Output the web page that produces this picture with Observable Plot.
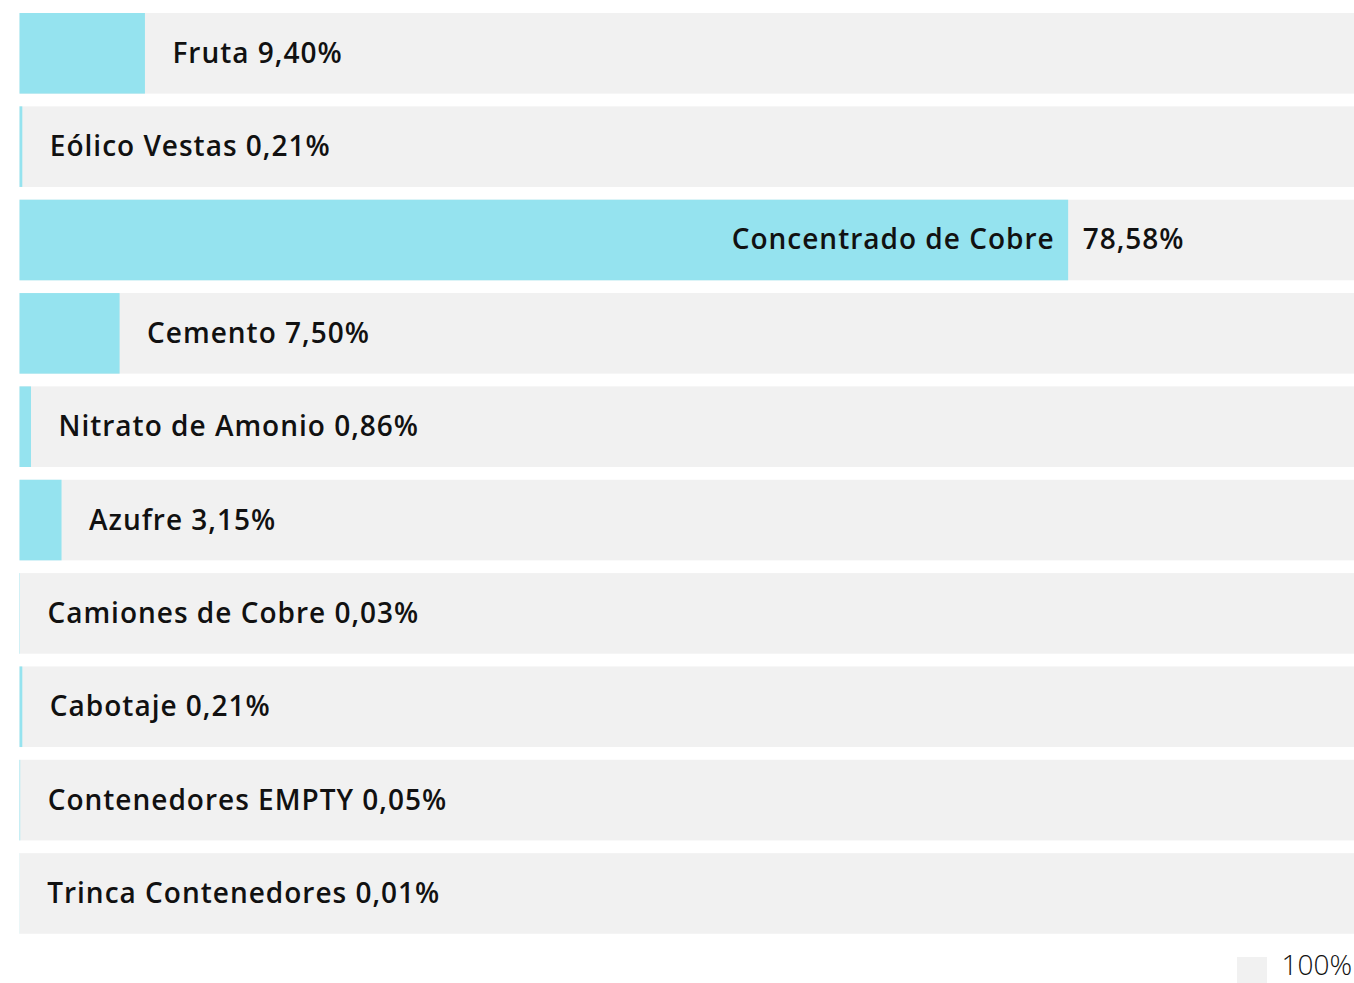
<!DOCTYPE html>
<html>
<head>
<meta charset="utf-8">
<script src="https://cdn.jsdelivr.net/npm/d3@7"></script>
<script src="https://cdn.jsdelivr.net/npm/@observablehq/plot@0.6"></script>
<style>
  html, body { margin: 0; padding: 0; background: #fff; overflow: hidden; }
  #chart { position: relative; width: 1354px; height: 983px; }
  #legend { position: absolute; right: 2px; top: 950px; display: flex; align-items: flex-start; gap: 14px; }
  #legend .sw { width: 30px; height: 26px; margin-top: 7px; background: #f1f1f1; }
  #legend .lb { font-family: "Open Sans", sans-serif; font-weight: 300; font-size: 28px; line-height: 28px; color: #111; }
</style>
</head>
<body>
<div id="chart"></div>
<script>
const categories = ["Fruta", "Eólico Vestas", "Concentrado de Cobre", "Cemento", "Nitrato de Amonio", "Azufre", "Camiones de Cobre", "Cabotaje", "Contenedores EMPTY", "Trinca Contenedores"];
const shares = [9.40, 0.21, 78.58, 7.50, 0.86, 3.15, 0.03, 0.21, 0.05, 0.01];
const total = 100;
const legendLabel = "100%";

const fmt = v => v.toFixed(2).replace(".", ",") + "%";
const data = categories.map((name, i) => ({name, value: shares[i], total}));
const big = data.filter(d => d.value >= 50);
const small = data.filter(d => d.value < 50);

const font = "'Open Sans', sans-serif";
const txt = {fontSize: 28, fontWeight: 600, fill: "#111"};
const chart = Plot.plot({
  width: 1354,
  height: 945,
  marginLeft: 19.5,
  marginRight: 0,
  marginTop: 0,
  marginBottom: 0,
  x: {domain: [0, 100], axis: null},
  y: {domain: categories, range: [13, 933.75], paddingInner: 0.1366, paddingOuter: 0, round: false, axis: null},
  style: {fontFamily: font, background: "transparent", letterSpacing: "1px"},
  marks: [
    Plot.barX(data, {x: "total", y: "name", fill: "#f1f1f1"}),
    Plot.barX(data, {x: "value", y: "name", fill: "#95e3ef"}),
    Plot.text(small, {x: "value", y: "name", text: d => `${d.name} ${fmt(d.value)}`, textAnchor: "start", dx: 27, ...txt}),
    Plot.text(big, {x: "value", y: "name", text: "name", textAnchor: "end", dx: -14, ...txt}),
    Plot.text(big, {x: "value", y: "name", text: d => fmt(d.value), textAnchor: "start", dx: 14, ...txt})
  ]
});
document.getElementById("chart").appendChild(chart);

const legend = document.createElement("div");
legend.id = "legend";
legend.innerHTML = `<div class="sw"></div><div class="lb">${legendLabel}</div>`;
document.getElementById("chart").appendChild(legend);
</script>
</body>
</html>
